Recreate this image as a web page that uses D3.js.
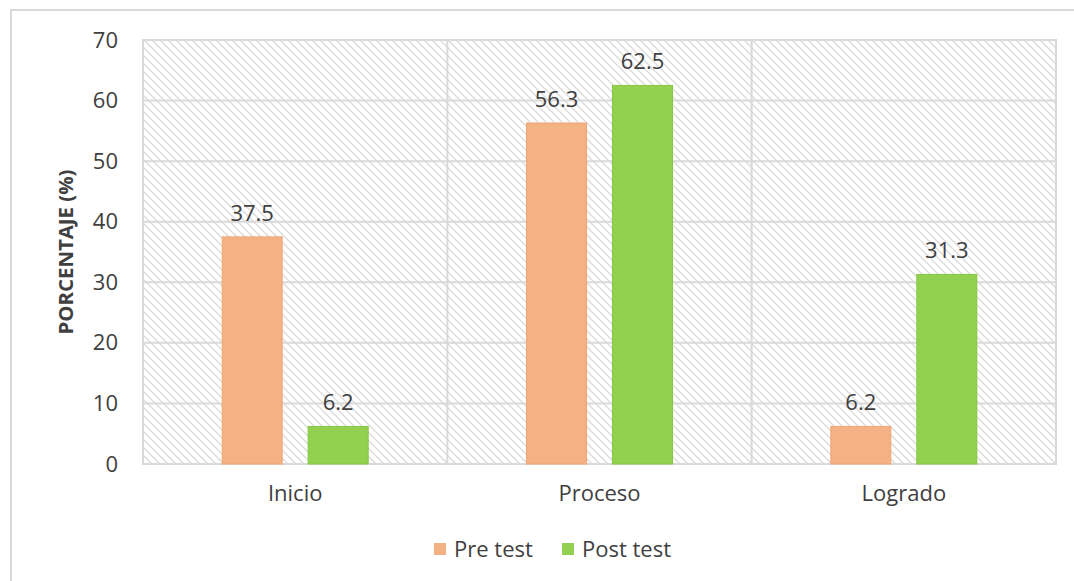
<!DOCTYPE html>
<html>
<head>
<meta charset="utf-8">
<script src="https://cdn.jsdelivr.net/npm/d3@7"></script>
<style>
  html, body { margin: 0; padding: 0; background: #fff; }
  svg { display: block; }
  text { font-family: "Open Sans", "Noto Sans", sans-serif; }
</style>
</head>
<body>
<svg id="chart" width="1074" height="581"></svg>
<script>
const categories = ["Inicio", "Proceso", "Logrado"];
const seriesNames = ["Pre test", "Post test"];
const preTest = [37.5, 56.3, 6.2];
const postTest = [6.2, 62.5, 31.3];
const yTicks = [0, 10, 20, 30, 40, 50, 60, 70];
const colors = ["#F4B183", "#92D050"];
const strokeColors = ["#EFA774", "#86C540"];

const svg = d3.select("#chart");
const m = { left: 143, right: 1056, top: 40, bottom: 464 };
const FS = 22;
const txt = "#404040";

// Outer border
svg.append("rect").attr("x", 11).attr("y", 10).attr("width", 1100).attr("height", 700)
  .attr("fill", "none").attr("stroke", "#d9d9d9").attr("stroke-width", 2);

// Hatch pattern
const defs = svg.append("defs");
const pat = defs.append("pattern").attr("id", "hatch").attr("patternUnits", "userSpaceOnUse")
  .attr("width", 8).attr("height", 8);
pat.append("rect").attr("width", 8).attr("height", 8).attr("fill", "#ffffff");
pat.append("path").attr("d", "M0,0 L8,8 M-2,6 L2,10 M6,-2 L10,2")
  .attr("stroke", "#dddddd").attr("stroke-width", 1.5);

const x0 = d3.scaleBand().domain(categories).range([m.left, m.right]).padding(0);
const half = 73;
const x1 = d3.scaleBand().domain(seriesNames)
  .range([x0.bandwidth() / 2 - half, x0.bandwidth() / 2 + half]).paddingInner(0.302).paddingOuter(0);
const y = d3.scaleLinear().domain([0, 70]).range([m.bottom, m.top]);

// plot background
svg.append("rect").attr("x", m.left).attr("y", m.top)
  .attr("width", m.right - m.left).attr("height", m.bottom - m.top)
  .attr("fill", "url(#hatch)");

// horizontal gridlines
svg.append("g").selectAll("line").data(yTicks).join("line")
  .attr("x1", m.left).attr("x2", m.right)
  .attr("y1", d => y(d)).attr("y2", d => y(d))
  .attr("stroke", "#d9d9d9").attr("stroke-width", 2);

// vertical gridlines at category boundaries
svg.append("g").selectAll("line").data(categories.slice(1)).join("line")
  .attr("x1", d => x0(d)).attr("x2", d => x0(d))
  .attr("y1", m.top).attr("y2", m.bottom)
  .attr("stroke", "#d9d9d9").attr("stroke-width", 2);

// plot border
svg.append("rect").attr("x", m.left).attr("y", m.top)
  .attr("width", m.right - m.left).attr("height", m.bottom - m.top)
  .attr("fill", "none").attr("stroke", "#d9d9d9").attr("stroke-width", 2);

// y axis labels
const yAxis = d3.axisLeft(y).tickValues(yTicks).tickSize(0).tickPadding(25);
const gy = svg.append("g").attr("transform", `translate(${m.left},0)`).call(yAxis);
gy.select(".domain").remove();
gy.selectAll("text").attr("font-size", FS).attr("fill", txt)
  .style("font-family", '"Open Sans", "Noto Sans", sans-serif');

// x axis labels
const xAxis = d3.axisBottom(x0).tickSize(0).tickPadding(21);
const gx = svg.append("g").attr("transform", `translate(0,${m.bottom})`).call(xAxis);
gx.select(".domain").remove();
gx.selectAll("text").attr("font-size", FS).attr("fill", txt)
  .style("font-family", '"Open Sans", "Noto Sans", sans-serif');

// bars
const data = categories.map((c, i) => ({ cat: c, values: [preTest[i], postTest[i]] }));
const groups = svg.append("g").selectAll("g").data(data).join("g")
  .attr("transform", d => `translate(${x0(d.cat)},0)`);
groups.selectAll("rect").data(d => d.values.map((v, j) => ({ s: seriesNames[j], v, j }))).join("rect")
  .attr("x", d => x1(d.s)).attr("width", x1.bandwidth())
  .attr("y", d => y(d.v)).attr("height", d => y(0) - y(d.v))
  .attr("fill", d => colors[d.j]).attr("stroke", d => strokeColors[d.j]).attr("stroke-width", 1);
groups.selectAll("text").data(d => d.values.map((v, j) => ({ s: seriesNames[j], v, j }))).join("text")
  .attr("x", d => x1(d.s) + x1.bandwidth() / 2).attr("y", d => y(d.v) - 16)
  .attr("text-anchor", "middle").attr("font-size", FS).attr("fill", txt)
  .text(d => d.v.toFixed(1));

// y axis title
svg.append("text").attr("transform", `translate(73,${(m.top + m.bottom) / 2}) rotate(-90)`)
  .attr("text-anchor", "middle").attr("font-size", 19).attr("font-weight", "bold").attr("fill", txt)
  .attr("textLength", 165).attr("lengthAdjust", "spacingAndGlyphs")
  .text("PORCENTAJE (%)");

// legend
const legendX = [434, 562];
const lg = svg.append("g").selectAll("g").data(seriesNames).join("g")
  .attr("transform", (d, i) => `translate(${legendX[i]},549)`);
lg.append("rect").attr("x", 0).attr("y", -6).attr("width", 12).attr("height", 12)
  .attr("fill", (d, i) => colors[i]);
lg.append("text").attr("x", 20).attr("y", 0).attr("dy", "0.35em")
  .attr("font-size", FS).attr("fill", txt).text(d => d);
</script>
</body>
</html>
